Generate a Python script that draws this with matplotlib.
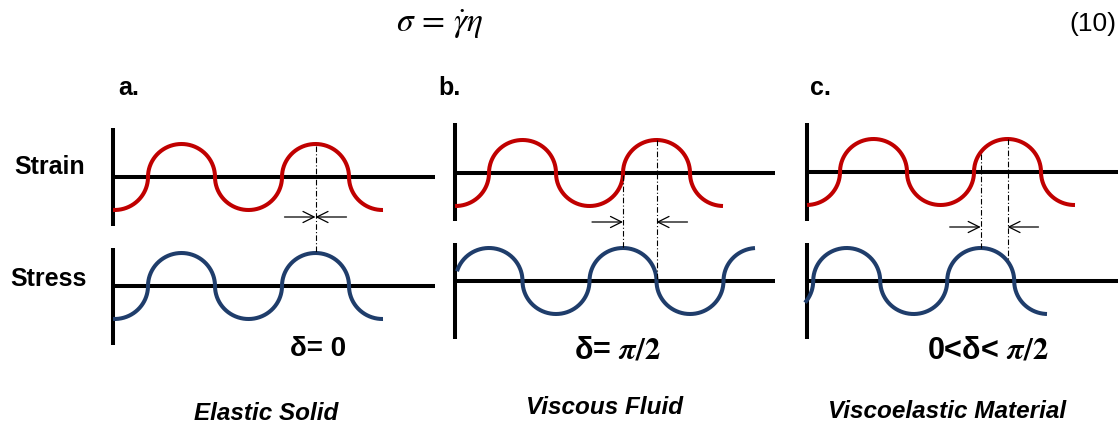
import numpy as np
import matplotlib
matplotlib.use("Agg")
import matplotlib.pyplot as plt

plt.rcParams['mathtext.fontset'] = 'stix'

# ---- data ----
panel_labels = ['a.', 'b.', 'c.']
row_labels = ['Strain', 'Stress']
delta_labels = ['δ= 0', 'δ= $\\boldsymbol{\\pi/2}$', '0<δ< $\\boldsymbol{\\pi/2}$']
materials = ['Elastic Solid', 'Viscous Fluid', 'Viscoelastic Material']
phase_lead_deg = [0, 90, 72]          # stress leads strain by delta
equation = r'$\sigma\, =\, \dot{\gamma}\eta$'
equation_no = '(10)'

# ---- layout (pixel coordinates, y downward) ----
W, H = 1118, 426
HALF = 67.0            # half period (px)
AMP = 33.0             # amplitude (px)
axis_x = [113, 455, 807]
strain_base = [177, 173, 172]
stress_base = [286, 281, 281]
hline_end = [435, 775, 1118]
strain_x0 = [148, 489, 840]               # first upward zero crossing of strain
strain_rng = [(113, 383), (455, 723), (807, 1075)]
stress_rng = [(113, 383), (457, 755), (805, 1047)]
strain_vtop = [128, 123, 123]
strain_vbot = [226, 221, 221]
stress_vtop = [248, 243, 243]
stress_vbot = [345, 339, 339]
arrow_y = [217, 222, 227]
label_x = [118, 438, 810]
delta_xy = [(318, 349), (617, 350), (988, 350)]
delta_size = [20, 22, 22]
mat_xy = [(266, 413), (605, 407), (947, 411)]

RED = '#C00000'
BLUE = '#1F3D6B'
LW = 2.9


def wave(x, x0, base):
    u = np.mod(x - x0, 2 * HALF)
    sign = np.where(u < HALF, -1.0, 1.0)  # first half above (y downward)
    v = np.mod(u, HALF) - HALF / 2
    h = np.sqrt(np.clip((HALF / 2) ** 2 - v ** 2, 0, None)) * AMP / (HALF / 2)
    return base + sign * h


fig = plt.figure(figsize=(W / 100, H / 100), dpi=100)
ax = fig.add_axes([0, 0, 1, 1])
ax.set_xlim(0, W)
ax.set_ylim(H, 0)
ax.axis('off')

for i in range(3):
    shift = phase_lead_deg[i] / 360.0 * 2 * HALF
    s_x0 = strain_x0[i]
    t_x0 = s_x0 - shift
    # axes lines
    kw = dict(color='black', lw=LW, solid_capstyle='butt')
    ax.plot([axis_x[i], axis_x[i]], [strain_vtop[i], strain_vbot[i]], **kw)
    ax.plot([axis_x[i], axis_x[i]], [stress_vtop[i], stress_vbot[i]], **kw)
    ax.plot([axis_x[i], hline_end[i]], [strain_base[i]] * 2, **kw)
    ax.plot([axis_x[i], hline_end[i]], [stress_base[i]] * 2, **kw)
    # curves
    xs = np.linspace(*strain_rng[i], 1500)
    ax.plot(xs, wave(xs, s_x0, strain_base[i]), color=RED, lw=LW, solid_capstyle='butt')
    xt = np.linspace(*stress_rng[i], 1500)
    ax.plot(xt, wave(xt, t_x0, stress_base[i]), color=BLUE, lw=LW, solid_capstyle='butt')

    # dashed guide lines: strain peak & stress peak (second cycle)
    xp_strain = s_x0 + 2 * HALF + HALF / 2
    xp_stress = t_x0 + 2 * HALF + HALF / 2
    ys_top = wave(np.array([xp_strain]), s_x0, strain_base[i])[0]
    ys_bot = wave(np.array([xp_strain]), t_x0, stress_base[i])[0]
    yt_top = wave(np.array([xp_stress]), s_x0, strain_base[i])[0]
    yt_bot = wave(np.array([xp_stress]), t_x0, stress_base[i])[0]
    dkw = dict(color='black', lw=0.8, ls=(0, (5, 2, 1, 2)))
    ax.plot([xp_stress, xp_stress], [yt_top + 2, yt_bot], **dkw)
    if abs(xp_strain - xp_stress) > 1:
        ax.plot([xp_strain, xp_strain], [ys_top, ys_bot], **dkw)
    # arrows
    ap = dict(arrowstyle='->,head_length=0.8,head_width=0.4', color='black', lw=0.9,
              shrinkA=0, shrinkB=0, mutation_scale=10)
    ax.annotate('', xy=(xp_stress, arrow_y[i]), xytext=(xp_stress - 31, arrow_y[i]), arrowprops=ap)
    ax.annotate('', xy=(xp_strain, arrow_y[i]), xytext=(xp_strain + 31, arrow_y[i]), arrowprops=ap)

    ax.text(label_x[i], 88, panel_labels[i], fontsize=18, fontweight='bold',
            family='Liberation Sans', ha='left', va='center')
    ax.text(*delta_xy[i], delta_labels[i], fontsize=delta_size[i], fontweight='bold',
            family='Liberation Sans', ha='center', va='center')
    ax.text(*mat_xy[i], materials[i], fontsize=17.5, fontweight='bold', style='italic',
            family='Liberation Sans', ha='center', va='center')

ax.text(14, 167, row_labels[0], fontsize=18, fontweight='bold', family='Liberation Sans',
        ha='left', va='center')
ax.text(10, 279, row_labels[1], fontsize=18, fontweight='bold', family='Liberation Sans',
        ha='left', va='center')

ax.text(440, 24, equation, fontsize=24, ha='center', va='center')
ax.text(1116, 24, equation_no, fontsize=19, family='Liberation Sans', ha='right', va='center')

fig.savefig('out.png', dpi=100)
